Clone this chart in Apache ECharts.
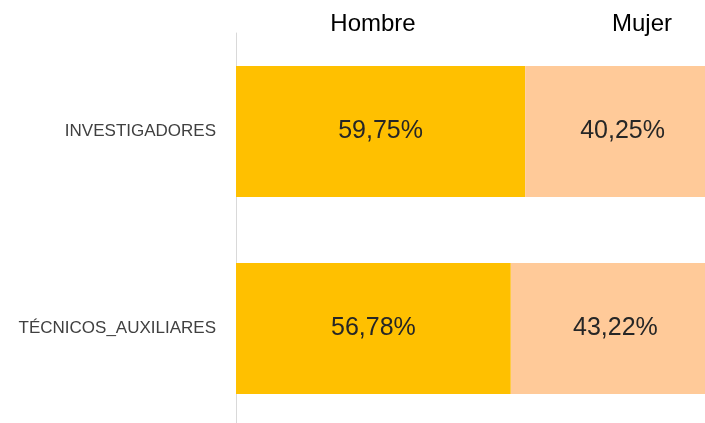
<!DOCTYPE html>
<html>
<head>
<meta charset="utf-8">
<script src="https://cdn.jsdelivr.net/npm/echarts@6/dist/echarts.min.js"></script>
<style>html,body{margin:0;padding:0;background:#fff;overflow:hidden}#c{width:720px;height:427px}</style>
</head>
<body>
<div id="c"></div>
<script>
var categories = ['INVESTIGADORES', 'TÉCNICOS_AUXILIARES'];
var seriesNames = ['Hombre', 'Mujer'];
var hombre = [59.75, 56.78];
var mujer = [40.25, 43.22];

var chart = echarts.init(document.getElementById('c'));
function fmt(p){ return p.value.toFixed(2).replace('.', ',') + '%'; }
var labelStyle = {show: true, position: 'inside', formatter: fmt, color: '#262626', fontSize: 25, fontFamily: 'Liberation Sans'};
chart.setOption({
  animation: false,
  grid: {left: 236, right: 0, top: 33, bottom: 0},
  xAxis: {type: 'value', min: 0, max: 100, show: false},
  yAxis: {
    type: 'category', data: categories, inverse: true,
    axisLine: {show: true, lineStyle: {color: '#d9d9d9', width: 1}},
    axisTick: {show: false},
    axisLabel: {margin: 20, color: '#404040', fontSize: 17, fontFamily: 'Liberation Sans'},
    splitLine: {show: false}
  },
  series: [
    {name: seriesNames[0], type: 'bar', stack: 't', data: hombre, barCategoryGap: '33.5%', itemStyle: {color: '#FFC000'}, label: labelStyle},
    {name: seriesNames[1], type: 'bar', stack: 't', data: mujer, barCategoryGap: '33.5%', itemStyle: {color: '#FFCA99'}, label: labelStyle}
  ],
  graphic: [
    {type: 'text', x: 373, y: 24, style: {text: seriesNames[0], fill: '#000', fontSize: 24, fontFamily: 'Liberation Sans', align: 'center', verticalAlign: 'middle'}},
    {type: 'text', x: 642, y: 24, style: {text: seriesNames[1], fill: '#000', fontSize: 24, fontFamily: 'Liberation Sans', align: 'center', verticalAlign: 'middle'}}
  ]
});
</script>
</body>
</html>
